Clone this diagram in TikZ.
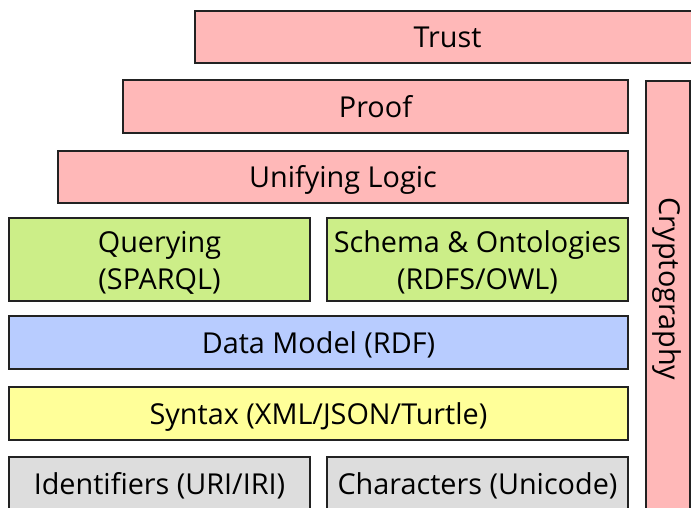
\documentclass[tikz,border=0pt]{standalone}
\usepackage{fontspec}
\setmainfont{Open Sans}
\definecolor{pinkc}{HTML}{FFB8B8}
\definecolor{greenc}{HTML}{CCEE88}
\definecolor{bluec}{HTML}{B8CCFF}
\definecolor{yellowc}{HTML}{FFFF99}
\definecolor{grayc}{HTML}{DDDDDD}
\definecolor{edgec}{HTML}{222222}
\begin{document}
\begin{tikzpicture}[x=1pt,y=-1pt,
  txt/.style={font=\fontsize{28.8}{37}\selectfont, text=black, text height=21pt, text depth=0pt},
  blk/.style={txt, draw=edgec, line width=1.4pt, inner sep=0pt, align=center},
  twoline/.style={text height=59.6pt, text depth=0pt}]
\useasboundingbox (0,0) rectangle (691,507);
\node[blk, fill=pinkc, minimum width=505pt, minimum height=52pt] (trust) at (447.5,37) {Trust};
\node[blk, fill=pinkc, minimum width=505pt, minimum height=53pt] (proof) at (375.5,106.5) {Proof};
\node[blk, fill=pinkc, minimum width=44pt, minimum height=440pt] (crypto) at (668,301) {};
\node[txt, rotate=-90, inner sep=0pt] (cryptotext) at (670,289) {Cryptography};
\node[blk, fill=pinkc, minimum width=570pt, minimum height=52pt] (logic) at (343,177) {Unifying Logic};
\node[blk, twoline, fill=greenc, minimum width=301pt, minimum height=83pt] (query) at (159.5,259.5) {Querying\\(SPARQL)};
\node[blk, twoline, fill=greenc, minimum width=301pt, minimum height=83pt] (schema) at (477.5,259.5) {Schema \& Ontologies\\(RDFS/OWL)};
\node[blk, fill=bluec, minimum width=619pt, minimum height=53pt] (data) at (318.5,342.5) {Data Model (RDF)};
\node[blk, fill=yellowc, minimum width=619pt, minimum height=53pt] (syntax) at (318.5,413.5) {Syntax (XML/JSON/Turtle)};
\node[blk, fill=grayc, minimum width=301pt, minimum height=53pt] (ident) at (159.5,483.5) {Identifiers (URI/IRI)};
\node[blk, fill=grayc, minimum width=301pt, minimum height=53pt] (chars) at (477.5,483.5) {Characters (Unicode)};
\end{tikzpicture}
\end{document}
